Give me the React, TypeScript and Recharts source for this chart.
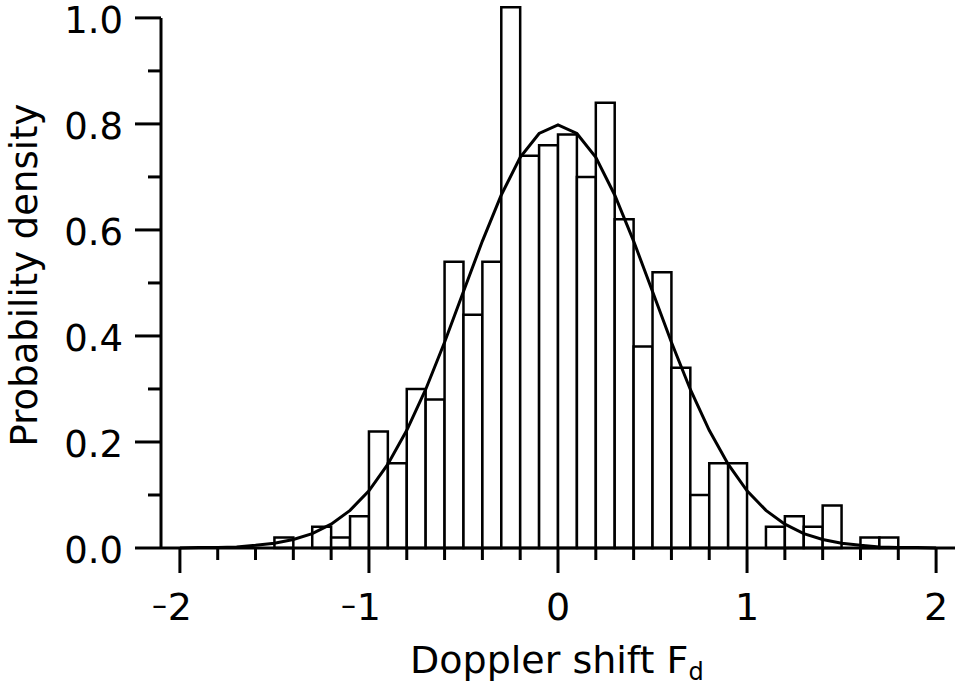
import { ComposedChart, Bar, Line, XAxis, YAxis, ReferenceLine } from 'recharts'

const FONT = '"DejaVu Sans", Arial, sans-serif'

// histogram bins (width 0.1), centre of each bin
const binCenters = [
  -1.45, -1.35, -1.25, -1.15, -1.05, -0.95, -0.85, -0.75, -0.65, -0.55, -0.45,
  -0.35, -0.25, -0.15, -0.05, 0.05, 0.15, 0.25, 0.35, 0.45, 0.55, 0.65, 0.75,
  0.85, 0.95, 1.05, 1.15, 1.25, 1.35, 1.45, 1.55, 1.65, 1.75,
]
const densities = [
  0.02, 0, 0.04, 0.02, 0.06, 0.22, 0.16, 0.3, 0.28, 0.54, 0.44, 0.54, 1.02, 0.74,
  0.76, 0.78, 0.7, 0.84, 0.62, 0.38, 0.52, 0.34, 0.1, 0.16, 0.16, 0, 0.04, 0.06,
  0.04, 0.08, 0, 0.02, 0.02,
]

// fitted curve, read at 0.1 steps
const curveX = [
  -2, -1.9, -1.8, -1.7, -1.6, -1.5, -1.4, -1.3, -1.2, -1.1, -1, -0.9, -0.8, -0.7,
  -0.6, -0.5, -0.4, -0.3, -0.2, -0.1, 0, 0.1, 0.2, 0.3, 0.4, 0.5, 0.6, 0.7, 0.8,
  0.9, 1, 1.1, 1.2, 1.3, 1.4, 1.5, 1.6, 1.7, 1.8, 1.9, 2,
]
const curveY = [
  0, 0.001, 0.001, 0.002, 0.005, 0.009, 0.016, 0.027, 0.045, 0.071, 0.108, 0.158,
  0.222, 0.299, 0.388, 0.484, 0.579, 0.666, 0.737, 0.782, 0.798, 0.782, 0.737,
  0.666, 0.579, 0.484, 0.388, 0.299, 0.222, 0.158, 0.108, 0.071, 0.045, 0.027,
  0.016, 0.009, 0.005, 0.002, 0.001, 0.001, 0,
]

const xTicks = [
  -2, -1.8, -1.6, -1.4, -1.2, -1, -0.8, -0.6, -0.4, -0.2, 0, 0.2, 0.4, 0.6, 0.8,
  1, 1.2, 1.4, 1.6, 1.8, 2,
]
const yTicks = [0, 0.1, 0.2, 0.3, 0.4, 0.5, 0.6, 0.7, 0.8, 0.9, 1]

const xDomain = [-2.1, 2.1]
const yDomain = [0, 1.03]

const W = 955
const H = 686
const YAXIS_W = 161
const plotW = W - YAXIS_W
const binPx = (plotW * 0.1) / (xDomain[1] - xDomain[0])

const bins = binCenters.map((mid, i) => ({ mid, density: densities[i] }))
const curve = curveX.map((x, i) => ({ x, pdf: curveY[i] }))

function XTick({ x, y, payload }: any) {
  const v = payload.value
  const major = Math.abs(v - Math.round(v)) < 1e-6
  return (
    <g>
      <line x1={x} x2={x} y1={y} y2={y + (major ? 25 : 12)} stroke="#000" strokeWidth={3} />
      {major && (
        <text x={x} y={y + 72} textAnchor="middle" fontSize={38} fontFamily={FONT} fill="#000">
          {Math.abs(Math.round(v))}
        </text>
      )}
      {major && v < 0 && (
        <text x={x - 13} y={y + 67} textAnchor="end" fontSize={30} fontFamily={FONT} fill="#000">
          –
        </text>
      )}
    </g>
  )
}

function YTick({ x, y, payload }: any) {
  const v = payload.value
  const major = Math.round(v * 10) % 2 === 0
  return (
    <g>
      <line x1={x - (major ? 26 : 13)} x2={x} y1={y} y2={y} stroke="#000" strokeWidth={3} />
      {major && (
        <text x={x - 38} y={y + 15} textAnchor="end" fontSize={37} fontFamily={FONT} fill="#000">
          {v.toFixed(1)}
        </text>
      )}
    </g>
  )
}

export default function App() {
  return (
    <div style={{ position: 'absolute', left: 0, top: 0, width: W, height: H, background: '#fff' }}>
      <ComposedChart
        width={W}
        height={H}
        data={bins}
        margin={{ top: 2, right: 0, bottom: 10, left: 0 }}
      >
        <XAxis
          dataKey="mid"
          type="number"
          domain={xDomain}
          ticks={xTicks}
          interval={0}
          tick={<XTick />}
          tickLine={false}
          tickSize={0}
          tickMargin={0}
          height={128}
          axisLine={{ stroke: '#000', strokeWidth: 3 }}
        />
        <XAxis xAxisId="curve" dataKey="x" type="number" domain={xDomain} hide />
        <YAxis
          type="number"
          domain={yDomain}
          ticks={yTicks}
          interval={0}
          tick={<YTick />}
          tickLine={false}
          tickSize={0}
          tickMargin={0}
          width={YAXIS_W}
          axisLine={false}
        />
        <ReferenceLine
          segment={[
            { x: xDomain[0], y: 0 },
            { x: xDomain[0], y: 1 },
          ]}
          stroke="#000"
          strokeWidth={3}
          ifOverflow="visible"
        />
        <Bar
          dataKey="density"
          fill="#fff"
          stroke="#000"
          strokeWidth={2.5}
          barSize={binPx - 0.01}
          isAnimationActive={false}
        />
        <Line
          xAxisId="curve"
          data={curve}
          dataKey="pdf"
          type="linear"
          stroke="#000"
          strokeWidth={3}
          dot={false}
          activeDot={false}
          isAnimationActive={false}
        />
      </ComposedChart>
      <svg
        width={W}
        height={H}
        style={{ position: 'absolute', left: 0, top: 0, pointerEvents: 'none' }}
      >
        <text x={410} y={673} fontSize={38} fontFamily={FONT} fill="#000">
          Doppler shift F
          <tspan dy={7} fontSize={24}>
            d
          </tspan>
        </text>
        <text
          x={37}
          y={275}
          transform="rotate(-90 37 275)"
          textAnchor="middle"
          fontSize={37}
          fontFamily={FONT}
          fill="#000"
        >
          Probability density
        </text>
      </svg>
    </div>
  )
}
